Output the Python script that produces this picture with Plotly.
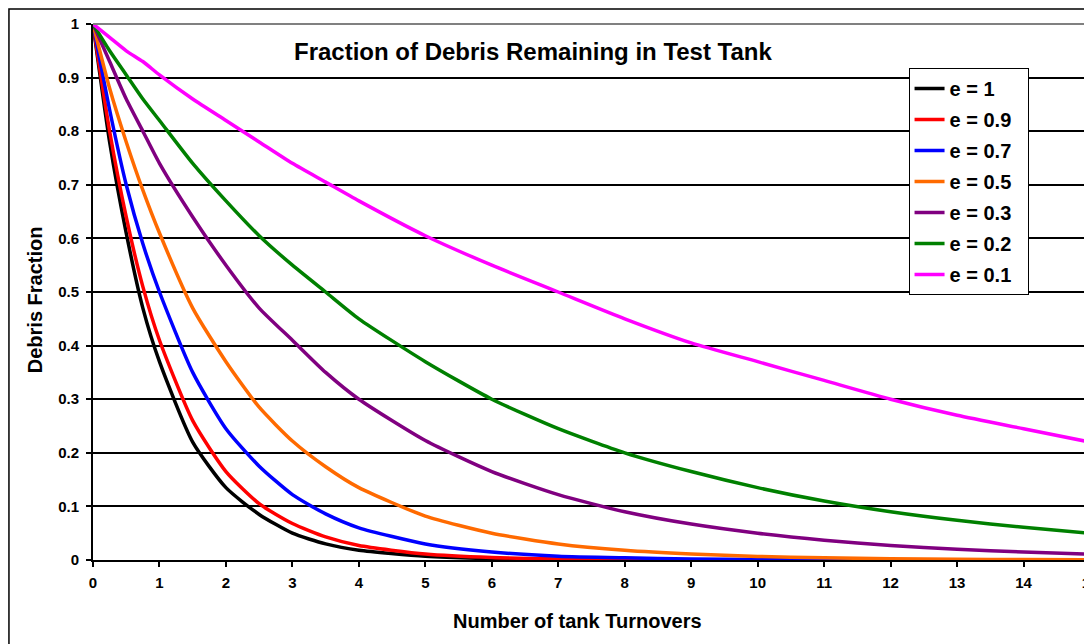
import plotly.graph_objects as go

turnovers = [0, 0.25, 0.5, 0.75, 1, 1.5, 2, 2.5, 3, 3.5, 4, 5, 6, 7, 8, 9, 10, 11, 12, 13, 14, 15]

e_labels = ["e = 1", "e = 0.9", "e = 0.7", "e = 0.5", "e = 0.3", "e = 0.2", "e = 0.1"]
colors = ["#000000", "#FF0000", "#0000FF", "#FF6A00", "#800080", "#008000", "#FF00FF"]

frac_e10 = [1, 0.78, 0.61, 0.47, 0.37, 0.22, 0.135, 0.085, 0.05, 0.03, 0.018, 0.007, 0.0025, 0.001, 0.0005, 0.0002, 0.0001, 0, 0, 0, 0, 0]
frac_e09 = [1, 0.80, 0.64, 0.51, 0.41, 0.26, 0.165, 0.105, 0.068, 0.043, 0.027, 0.011, 0.0045, 0.002, 0.001, 0.0004, 0.0002, 0.0001, 0, 0, 0, 0]
frac_e07 = [1, 0.84, 0.70, 0.59, 0.50, 0.35, 0.245, 0.175, 0.122, 0.086, 0.06, 0.03, 0.015, 0.007, 0.004, 0.002, 0.001, 0.0005, 0.0002, 0.0001, 0.0001, 0]
frac_e05 = [1, 0.88, 0.78, 0.69, 0.61, 0.47, 0.37, 0.285, 0.222, 0.174, 0.135, 0.082, 0.05, 0.03, 0.018, 0.011, 0.0067, 0.004, 0.0025, 0.0015, 0.0009, 0.0005]
frac_e03 = [1, 0.93, 0.86, 0.80, 0.74, 0.64, 0.55, 0.47, 0.41, 0.35, 0.30, 0.223, 0.165, 0.122, 0.09, 0.067, 0.05, 0.037, 0.027, 0.02, 0.015, 0.011]
frac_e02 = [1, 0.95, 0.905, 0.86, 0.82, 0.74, 0.67, 0.605, 0.55, 0.50, 0.45, 0.37, 0.30, 0.245, 0.20, 0.165, 0.135, 0.11, 0.09, 0.074, 0.061, 0.05]
frac_e01 = [1, 0.975, 0.95, 0.93, 0.905, 0.86, 0.82, 0.78, 0.74, 0.705, 0.67, 0.605, 0.55, 0.50, 0.45, 0.405, 0.37, 0.335, 0.30, 0.27, 0.245, 0.22]

series = [frac_e10, frac_e09, frac_e07, frac_e05, frac_e03, frac_e02, frac_e01]

x_ticks = list(range(0, 16))
y_ticks = [0, 0.1, 0.2, 0.3, 0.4, 0.5, 0.6, 0.7, 0.8, 0.9, 1]
y_tick_text = ["0", "0.1", "0.2", "0.3", "0.4", "0.5", "0.6", "0.7", "0.8", "0.9", "1"]

FONT = "Liberation Sans, Arial, sans-serif"

fig = go.Figure()
for name, col, vals in zip(e_labels, colors, series):
    fig.add_trace(go.Scatter(
        x=turnovers, y=vals, mode="lines", name=name + "\u00a0\u00a0", legendgroup=name,
        line=dict(color=col, width=3.5, shape="spline", smoothing=0.6),
    ))

# the page body has an 8px default margin, so the figure is 8px smaller and margins shifted
fig.update_layout(
    width=1084, height=636,
    margin=dict(l=85, r=2, t=16, b=84, autoexpand=False),
    paper_bgcolor="white", plot_bgcolor="white",
    font=dict(family=FONT, color="black"),
    showlegend=True,
    legend=dict(
        x=0.818, y=0.918, xanchor="left", yanchor="top",
        bgcolor="white", bordercolor="black", borderwidth=1,
        font=dict(family=FONT, size=20, color="black", weight="bold"),
        tracegroupgap=2, itemwidth=30,
    ),
    xaxis=dict(
        range=[0, 15], tickvals=x_ticks, ticks="outside", ticklen=5, tickwidth=2,
        tickcolor="black", showgrid=False, zeroline=False, automargin=False,
        showline=True, linecolor="black", linewidth=2, ticklabeloverflow="allow",
        tickfont=dict(family=FONT, size=15, color="black", weight="bold"),
        ticklabelstandoff=3,
    ),
    yaxis=dict(
        range=[0, 1], tickvals=y_ticks, ticktext=y_tick_text, ticks="outside", ticklen=5,
        tickwidth=2, tickcolor="black", showgrid=True, gridcolor="black", gridwidth=1.8,
        zeroline=False, showline=True, linecolor="black", linewidth=2, automargin=False,
        tickfont=dict(family=FONT, size=15, color="black", weight="bold"),
        ticklabelstandoff=4, ticklabeloverflow="allow",
    ),
    annotations=[
        dict(text="<b>Fraction of Debris Remaining in Test Tank</b>", x=0.441, y=0.948,
             xref="paper", yref="paper", showarrow=False, xanchor="center", yanchor="middle",
             font=dict(family=FONT, size=24, color="black")),
        dict(text="<b>Number of tank Turnovers</b>", x=0.486, y=-0.113,
             xref="paper", yref="paper", showarrow=False, xanchor="center", yanchor="middle",
             font=dict(family=FONT, size=20, color="black")),
        dict(text="<b>Debris Fraction</b>", x=-0.058, y=0.485, textangle=-90,
             xref="paper", yref="paper", showarrow=False, xanchor="center", yanchor="middle",
             font=dict(family=FONT, size=20, color="black")),
    ],
    shapes=[
        dict(type="rect", xref="paper", yref="paper", x0=-0.0843, x1=1.05, y0=-0.3, y1=1.028,
             line=dict(color="black", width=1.5), fillcolor="rgba(0,0,0,0)", layer="below"),
        dict(type="line", xref="paper", yref="paper", x0=0, x1=1, y0=1, y1=1,
             line=dict(color="#808080", width=2)),
        dict(type="line", xref="paper", yref="paper", x0=1, x1=1, y0=0, y1=1,
             line=dict(color="#808080", width=2)),
    ],
)

fig.write_html("out.html")
